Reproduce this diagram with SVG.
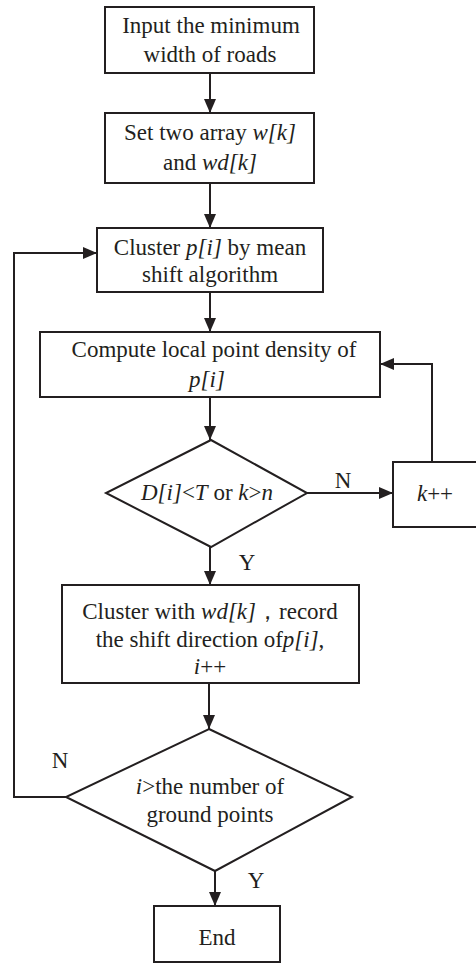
<svg xmlns="http://www.w3.org/2000/svg" width="476" height="972" viewBox="0 0 476 972">
<style>
.box{fill:#fff;stroke:#231f20;stroke-width:2}
.ln{fill:none;stroke:#231f20;stroke-width:2}
text{font-family:"Liberation Serif","Times New Roman",serif;font-size:23px;fill:#231f20}
.c{text-anchor:middle}
.i{font-style:italic}
</style>
<defs>
<marker id="ah" viewBox="0 0 14 12" refX="14" refY="6" markerWidth="14" markerHeight="12" markerUnits="userSpaceOnUse" orient="auto">
<path d="M0,0 L14,6 L0,12 Z" fill="#231f20"/>
</marker>
</defs>
<rect width="476" height="972" fill="#fff"/>
<g id="connectors">
<line class="ln" x1="210" y1="73" x2="210" y2="113" marker-end="url(#ah)"/>
<line class="ln" x1="210" y1="183" x2="210" y2="228" marker-end="url(#ah)"/>
<line class="ln" x1="210" y1="292" x2="210" y2="332" marker-end="url(#ah)"/>
<line class="ln" x1="210" y1="397" x2="210" y2="440" marker-end="url(#ah)"/>
<line class="ln" x1="307" y1="493" x2="393" y2="493" marker-end="url(#ah)"/>
<polyline class="ln" points="432,462 432,364 380,364" marker-end="url(#ah)"/>
<line class="ln" x1="210" y1="547" x2="210" y2="585" marker-end="url(#ah)"/>
<line class="ln" x1="209" y1="683" x2="209" y2="729" marker-end="url(#ah)"/>
<polyline class="ln" points="66,797 14,797 14,253 97,253" marker-end="url(#ah)"/>
<line class="ln" x1="215" y1="871" x2="215" y2="906" marker-end="url(#ah)"/>
<text x="343" y="488" class="c">N</text>
<text x="247" y="570" class="c">Y</text>
<text x="60" y="768" class="c">N</text>
<text x="256" y="888" class="c">Y</text>
</g>
<g id="input">
<rect class="box" x="105" y="7" width="209" height="66"/>
<text x="211" y="33" class="c">Input the minimum</text>
<text x="210" y="62" class="c">width of roads</text>
</g>
<g id="setarray">
<rect class="box" x="105" y="113" width="209" height="70"/>
<text x="210" y="140" class="c">Set two array <tspan class="i">w[k]</tspan></text>
<text x="210" y="170" class="c">and <tspan class="i">wd[k]</tspan></text>
</g>
<g id="cluster">
<rect class="box" x="97" y="228" width="226" height="64"/>
<text x="210" y="255" class="c">Cluster <tspan class="i">p[i]</tspan> by mean</text>
<text x="210" y="282" class="c">shift algorithm</text>
</g>
<g id="density">
<rect class="box" x="40" y="332" width="340" height="65"/>
<text x="214" y="357" class="c">Compute local point density of</text>
<text x="207" y="387" class="c i">p[i]</text>
</g>
<g id="decision1">
<polygon class="box" points="211,440 307,493 211,547 106,493"/>
<text x="207" y="500" class="c"><tspan class="i">D[i]</tspan>&lt;<tspan class="i">T</tspan> or <tspan class="i">k</tspan>&gt;<tspan class="i">n</tspan></text>
</g>
<g id="kinc">
<rect class="box" x="393" y="462" width="90" height="65"/>
<text x="435" y="501" class="c"><tspan class="i">k</tspan>++</text>
</g>
<g id="record">
<rect class="box" x="62" y="585" width="297" height="98"/>
<text x="210" y="619" class="c">Cluster with <tspan class="i">wd[k]</tspan>，record</text>
<text x="210" y="647" class="c">the shift direction of<tspan class="i">p[i]</tspan>,</text>
<text x="210" y="674" class="c"><tspan class="i">i</tspan>++</text>
</g>
<g id="decision2">
<polygon class="box" points="209,729 352,797 215,871 66,797"/>
<text x="210" y="794" class="c"><tspan class="i">i</tspan>&gt;the number of</text>
<text x="210" y="822" class="c">ground points</text>
</g>
<g id="end">
<rect class="box" x="154" y="906" width="126" height="56"/>
<text x="217" y="945" class="c">End</text>
</g>
</svg>
